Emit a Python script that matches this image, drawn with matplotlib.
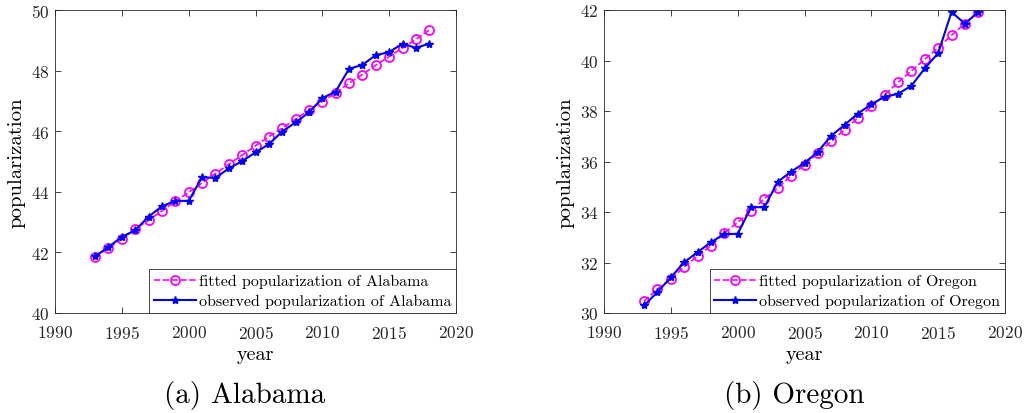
import matplotlib
matplotlib.use("Agg")
import matplotlib.pyplot as plt
import numpy as np

plt.rcParams["font.family"] = "serif"
plt.rcParams["font.serif"] = ["cmr10", "DejaVu Serif"]
plt.rcParams["mathtext.fontset"] = "cm"
plt.rcParams["axes.formatter.use_mathtext"] = True

years = np.arange(1993, 2019)

alabama_observed = [41.87, 42.18, 42.51, 42.73, 43.18, 43.52, 43.70, 43.70, 44.48, 44.46,
                    44.77, 45.01, 45.30, 45.57, 45.99, 46.29, 46.62, 47.09, 47.31, 48.06,
                    48.19, 48.51, 48.61, 48.89, 48.75, 48.89]
alabama_fitted = [41.84, 42.14, 42.45, 42.78, 43.06, 43.37, 43.68, 43.98, 44.29, 44.60,
                  44.91, 45.21, 45.52, 45.82, 46.10, 46.40, 46.70, 46.98, 47.26, 47.59,
                  47.87, 48.18, 48.46, 48.75, 49.03, 49.34]

oregon_observed = [30.30, 30.83, 31.41, 32.01, 32.41, 32.80, 33.13, 33.13, 34.19, 34.19,
                   35.20, 35.60, 35.94, 36.39, 37.02, 37.45, 37.90, 38.27, 38.56, 38.68,
                   39.00, 39.69, 40.29, 41.92, 41.46, 41.92]
oregon_fitted = [30.47, 30.95, 31.35, 31.82, 32.25, 32.67, 33.17, 33.59, 34.04, 34.52,
                 34.95, 35.44, 35.87, 36.32, 36.80, 37.26, 37.73, 38.18, 38.64, 39.13,
                 39.59, 40.05, 40.51, 41.00, 41.46, 41.92]

panels = [
    ("Alabama", "(a) Alabama", alabama_fitted, alabama_observed, (40, 50), np.arange(40, 51, 2)),
    ("Oregon", "(b) Oregon", oregon_fitted, oregon_observed, (30, 42), np.arange(30, 43, 2)),
]

fig = plt.figure(figsize=(10.26, 4.14), dpi=100)
lefts = [55 / 1026, 604 / 1026]

for left, (state, caption, fitted, observed, ylim, yticks) in zip(lefts, panels):
    ax = fig.add_axes([left, 1 - 314 / 414, 401 / 1026, 303 / 414])
    ax.plot(years, fitted, "--o", color="magenta", markerfacecolor="none",
            markersize=6.5, linewidth=1.2, markeredgewidth=1.3,
            label=f"fitted popularization of {state}")
    ax.plot(years, observed, "-*", color="blue", markersize=6,
            linewidth=1.5, label=f"observed popularization of {state}")
    ax.set_xlim(1990, 2020)
    ax.set_ylim(*ylim)
    ax.set_xticks(np.arange(1990, 2021, 5))
    ax.set_yticks(yticks)
    ax.tick_params(direction="in", top=True, right=True, labelsize=12.5, length=4,
                   width=0.6, colors="#262626")
    ax.tick_params(axis="x", pad=8)
    ax.tick_params(axis="y", pad=4)
    for spine in ax.spines.values():
        spine.set_linewidth(0.6)
        spine.set_color("#262626")
    ax.set_xlabel("year", fontsize=14.5, labelpad=3)
    ax.set_ylabel("popularization", fontsize=15, labelpad=4)
    leg = ax.legend(loc="lower right", fontsize=11.5, fancybox=False, framealpha=1,
                    edgecolor="#262626", borderaxespad=0, handlelength=2.6,
                    handletextpad=0.2, borderpad=0.3, labelspacing=0.35)
    leg.get_frame().set_linewidth(0.6)
    fig.text(left + 190 / 1026, 1 - 396 / 414, caption, ha="center", va="center", fontsize=21)

fig.savefig("out.png", dpi=100)
